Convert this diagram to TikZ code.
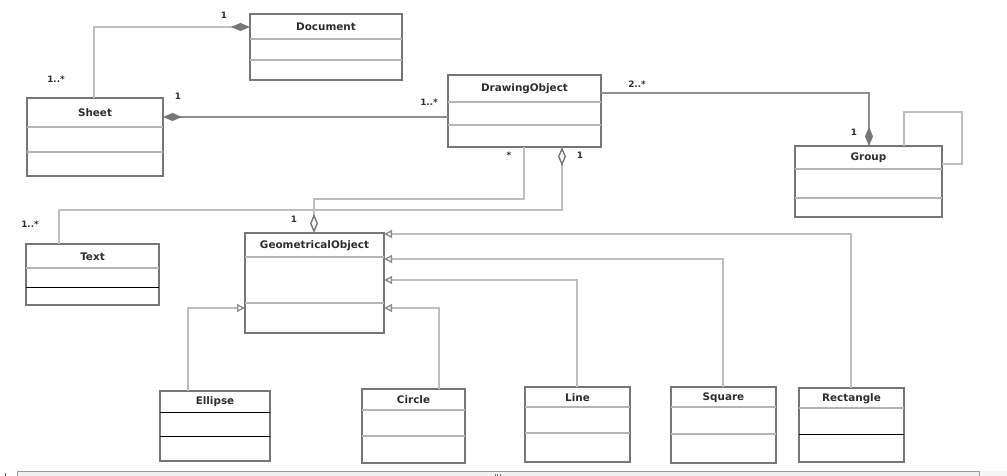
\documentclass[tikz,border=0pt]{standalone}
\usepackage{fontspec}
\setmainfont{DejaVu Sans}
\usetikzlibrary{arrows.meta}

\definecolor{boxline}{HTML}{767676}
\definecolor{divgray}{HTML}{B4B4B4}
\definecolor{linkdark}{HTML}{8E8E8E}
\definecolor{linklight}{HTML}{BEBEBE}
\definecolor{textcol}{HTML}{2E2E2E}

\tikzset{
  classbox/.style={draw=boxline, line width=2pt, fill=white, inner sep=0pt,
    outer sep=0pt, anchor=north west},
  classname/.style={font=\bfseries\fontsize{10.4}{12}\selectfont, text=textcol, inner sep=0pt},
  mult/.style={font=\bfseries\fontsize{8.8}{10}\selectfont, text=textcol, inner sep=0pt},
  divg/.style={draw=divgray, line width=1.5pt},
  divk/.style={draw=black, line width=0.9pt},
  link/.style={draw=linkdark, line width=1.2pt},
  linklt/.style={draw=linklight, line width=1.4pt},
  compend/.style={-{Diamond[length=19pt,width=8pt,fill=boxline,color=boxline]}},
  compstart/.style={{Diamond[length=19pt,width=8pt,fill=boxline,color=boxline]}-},
  aggend/.style={-{Diamond[open,length=19pt,width=8pt,fill=white,color=boxline]}},
  aggstart/.style={{Diamond[open,length=19pt,width=8pt,fill=white,color=boxline]}-},
  inherit/.style={linklt, -{Triangle[open,length=8pt,width=8pt,fill=white,color=linkdark]}}
}

% class box: name, x, y, width, height, half header height, title
\newcommand\umlclass[7]{%
  \node[classbox, minimum width=#4pt, minimum height=#5pt] (#1) at (#2,#3) {};
  \node[classname] (#1-name) at ([yshift=-#6pt]#1.north) {#7};}
% compartment divider: [style] box, offset from top
\newcommand\umldiv[3][divg]{%
  \draw[#1] ([yshift=-#3pt]#2.north west) -- ([yshift=-#3pt]#2.north east);}

\begin{document}
\begin{tikzpicture}[x=1pt, y=-1pt]
\useasboundingbox (0,0) rectangle (1007,476);
\fill[white] (0,0) rectangle (1007,476);

% classes
\umlclass{doc}{250}{14}{152}{66}{13}{Document}
\umldiv{doc}{25}\umldiv{doc}{46}
\umlclass{sheet}{27}{98}{136}{78}{15}{Sheet}
\umldiv{sheet}{29}\umldiv{sheet}{54}
\umlclass{drw}{448}{75}{153}{72}{14}{DrawingObject}
\umldiv{drw}{27}\umldiv{drw}{50}
\umlclass{grp}{795}{146}{147}{71}{12}{Group}
\umldiv{grp}{23}\umldiv{grp}{52}
\umlclass{txt}{26}{244}{133}{61}{12.5}{Text}
\umldiv{txt}{24}\umldiv[divk]{txt}{43}
\umlclass{geo}{245}{233}{139}{100}{12.5}{GeometricalObject}
\umldiv{geo}{24}\umldiv{geo}{70}
\umlclass{ell}{160}{391}{110}{70}{11}{Ellipse}
\umldiv[divk]{ell}{21}\umldiv[divk]{ell}{45}
\umlclass{cir}{362}{389}{103}{74}{11}{Circle}
\umldiv{cir}{21}\umldiv{cir}{47}
\umlclass{lin}{525}{387}{105}{75}{10.5}{Line}
\umldiv{lin}{20}\umldiv{lin}{46}
\umlclass{sq}{671}{387}{105}{76}{10.5}{Square}
\umldiv{sq}{20}\umldiv{sq}{47}
\umlclass{rect}{799}{388}{105}{74}{10.5}{Rectangle}
\umldiv{rect}{20}\umldiv[divk]{rect}{46}

% associations and compositions
\draw[linklt, compend] (94,0 |- sheet.north) -- (94,27) -- (doc.west |- 0,27);
\draw[link, compstart] (sheet.east |- 0,117) -- (drw.west |- 0,117);
\draw[link, compend] (drw.east |- 0,93) -| (869,0 |- grp.north);
\draw[linklt] (904,0 |- grp.north) |- (962,112) |- (grp.east |- 0,164);
\draw[linklt, aggend] (524,0 |- drw.south) |- (314,199) -- (314,0 |- geo.north);
\draw[linklt, aggstart] (562,0 |- drw.south) |- (59,210) -- (59,0 |- txt.north);

% generalizations
\draw[inherit] (851,0 |- rect.north) |- (geo.east |- 0,234);
\draw[inherit] (723,0 |- sq.north) |- (geo.east |- 0,259);
\draw[inherit] (577,0 |- lin.north) |- (geo.east |- 0,280);
\draw[inherit] (439,0 |- cir.north) |- (geo.east |- 0,308);
\draw[inherit] (188,0 |- ell.north) |- (geo.west |- 0,308);

% multiplicities
\node[mult] (m1) at (224,15) {1};
\node[mult] (m2) at (56,79) {1..*};
\node[mult] (m3) at (178,96) {1};
\node[mult] (m4) at (429,102) {1..*};
\node[mult] (m5) at (637,84) {2..*};
\node[mult] (m6) at (854,132) {1};
\node[mult] (m7) at (509,155) {*};
\node[mult] (m8) at (580,155) {1};
\node[mult] (m9) at (30,224) {1..*};
\node[mult] (m10) at (294,219) {1};

% scroll bar along the bottom edge
\fill[black!6] (17,471) rectangle (979,477);
\fill[black!4] (979,471) rectangle (1007,477);
\draw[black!40, line width=1pt] (17,477) -- (17,471) -- (979,471) -- (979,477);
\draw[black!60, line width=0.8pt] (5,473) -- (5,477);
\foreach \gx in {495,497.5,500} \draw[black!55, line width=0.7pt] (\gx,474) -- (\gx,477);
\end{tikzpicture}
\end{document}
